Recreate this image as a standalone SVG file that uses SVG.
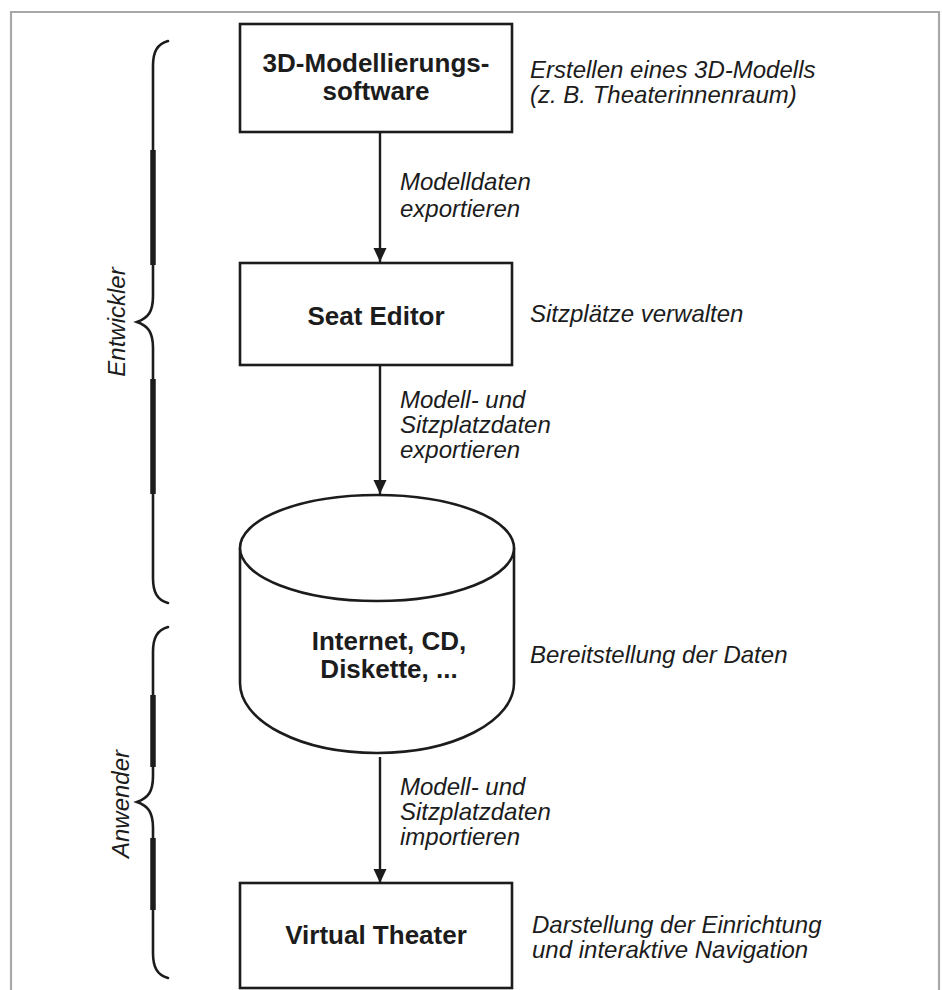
<svg xmlns="http://www.w3.org/2000/svg" width="942" height="990" viewBox="0 0 942 990">
<defs>
<style>
.frame{fill:none;stroke:#a8a8a8;stroke-width:2.2}
.box{fill:#fff;stroke:#1c1c1c;stroke-width:2.6}
.edge{fill:none;stroke:#1c1c1c;stroke-width:2.4}
.brace{fill:none;stroke:#1c1c1c;stroke-width:2.6;stroke-linecap:round}
.thick{fill:none;stroke:#1c1c1c;stroke-width:5.5}
.bold{font-family:"Liberation Sans",Arial,sans-serif;font-weight:bold;font-size:26px;fill:#1c1c1c;text-anchor:middle}
.lab{font-family:"Liberation Sans",Arial,sans-serif;font-style:italic;font-size:24px;fill:#1c1c1c}
</style>
<marker id="ah" markerUnits="userSpaceOnUse" markerWidth="14" markerHeight="14" viewBox="0 0 14 14" refX="14" refY="7" orient="auto">
<path d="M0,0.5 L14,7 L0,13.5 Z" fill="#1c1c1c"/>
</marker>
</defs>
<rect width="942" height="990" fill="#fff"/>
<path class="frame" d="M11,990 L11,12 L939,12 L939,990"/>

<g id="brace-entwickler">
<path class="brace" d="M168,41 C157,44 153,52 153,66 L153,296 C153,312 148,318 137,322 C148,326 153,332 153,348 L153,578 C153,592 157,600 168,603"/>
<line class="thick" x1="153" y1="150" x2="153" y2="265"/>
<line class="thick" x1="153" y1="379" x2="153" y2="494"/>
<text class="lab" transform="translate(125,322) rotate(-90)" text-anchor="middle">Entwickler</text>
</g>

<g id="brace-anwender">
<path class="brace" d="M168,627 C157,630 153,638 153,652 L153,776 C153,792 148,798 137,802 C148,806 153,812 153,828 L153,953 C153,967 157,975 168,978"/>
<line class="thick" x1="153" y1="695" x2="153" y2="767"/>
<line class="thick" x1="153" y1="838" x2="153" y2="910"/>
<text class="lab" transform="translate(129,804) rotate(-90)" text-anchor="middle">Anwender</text>
</g>

<g id="connectors">
<line class="edge" x1="380" y1="132" x2="380" y2="262" marker-end="url(#ah)"/>
<line class="edge" x1="380" y1="365" x2="380" y2="494" marker-end="url(#ah)"/>
<line class="edge" x1="380" y1="757" x2="380" y2="883" marker-end="url(#ah)"/>
<text class="lab" x="400" y="190">Modelldaten</text>
<text class="lab" x="400" y="217">exportieren</text>
<text class="lab" x="400" y="408">Modell- und</text>
<text class="lab" x="400" y="433">Sitzplatzdaten</text>
<text class="lab" x="400" y="458">exportieren</text>
<text class="lab" x="400" y="795">Modell- und</text>
<text class="lab" x="400" y="820">Sitzplatzdaten</text>
<text class="lab" x="400" y="845">importieren</text>
</g>

<g id="node-modellierung">
<rect class="box" x="240" y="24" width="272" height="108"/>
<text class="bold" x="376" y="72">3D-Modellierungs-</text>
<text class="bold" x="376" y="100">software</text>
<text class="lab" x="530" y="78">Erstellen eines 3D-Modells</text>
<text class="lab" x="530" y="103">(z. B. Theaterinnenraum)</text>
</g>

<g id="node-seat-editor">
<rect class="box" x="240" y="263" width="272" height="102"/>
<text class="bold" x="376" y="325">Seat Editor</text>
<text class="lab" x="530" y="322">Sitzplätze verwalten</text>
</g>

<g id="node-storage">
<path class="box" d="M240,548 L240,683 A137,70 0 0 0 514,683 L514,548"/>
<ellipse class="box" cx="377" cy="548" rx="137" ry="53"/>
<text class="bold" x="389" y="650">Internet, CD,</text>
<text class="bold" x="389" y="678">Diskette, ...</text>
<text class="lab" x="530" y="663">Bereitstellung der Daten</text>
</g>

<g id="node-virtual-theater">
<rect class="box" x="240" y="883" width="272" height="105"/>
<text class="bold" x="376" y="944">Virtual Theater</text>
<text class="lab" x="532" y="933">Darstellung der Einrichtung</text>
<text class="lab" x="532" y="958">und interaktive Navigation</text>
</g>
</svg>
